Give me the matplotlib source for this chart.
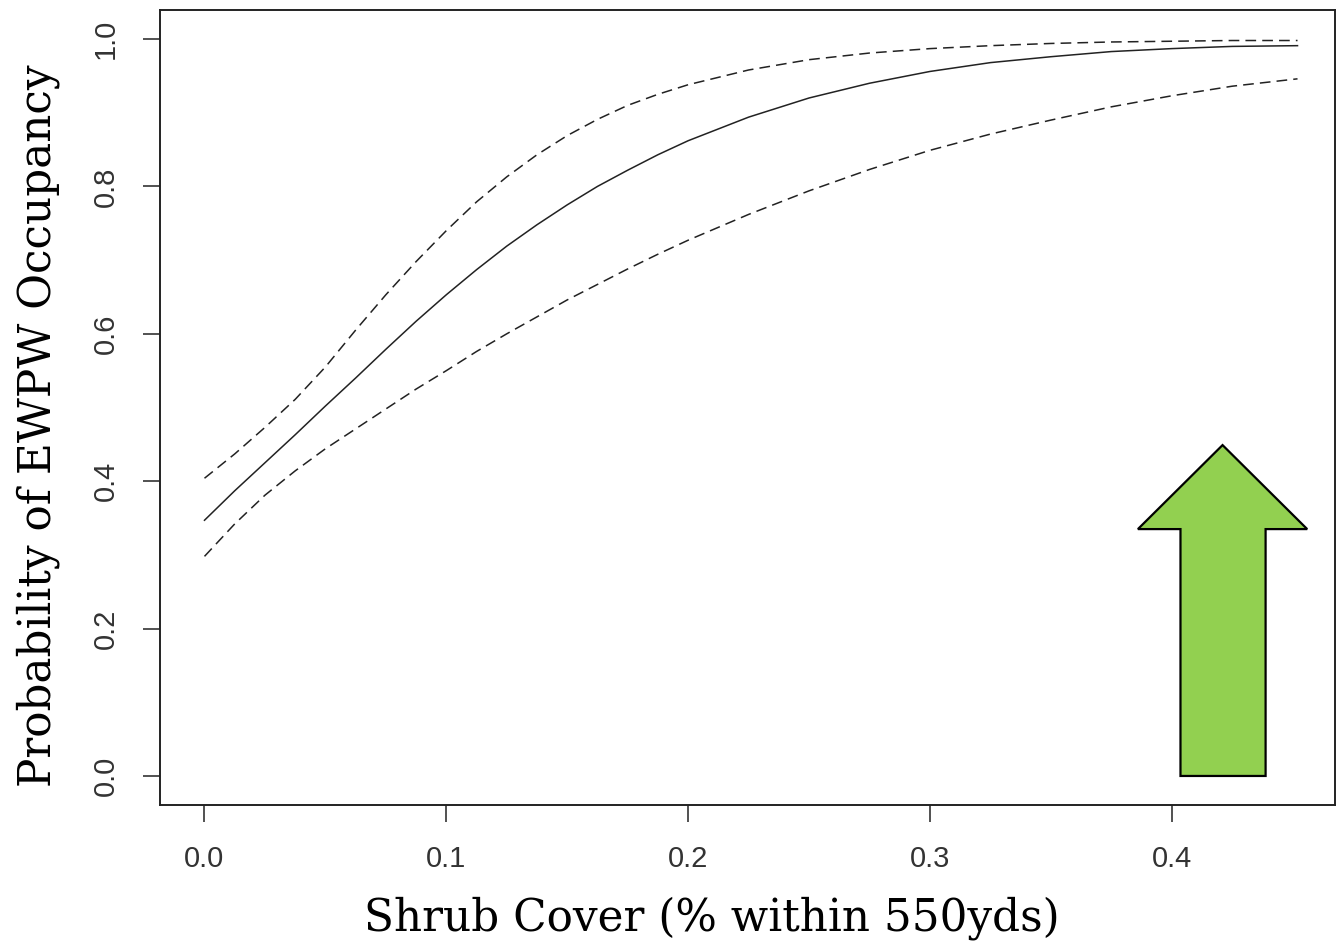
import matplotlib
matplotlib.use("Agg")
import matplotlib.pyplot as plt
from matplotlib.patches import Polygon

# shrub cover (proportion within 550 yds)
shrub = [0.000, 0.0125, 0.025, 0.0375, 0.050, 0.0625, 0.075, 0.0875, 0.100,
         0.1125, 0.125, 0.1375, 0.150, 0.1625, 0.175, 0.1875, 0.200, 0.225,
         0.250, 0.275, 0.300, 0.325, 0.350, 0.375, 0.400, 0.425, 0.452]
# predicted occupancy + 95% CI
occ_fit = [0.347, 0.387, 0.425, 0.463, 0.502, 0.540, 0.579, 0.617, 0.653,
           0.687, 0.719, 0.748, 0.775, 0.800, 0.822, 0.843, 0.862, 0.894,
           0.920, 0.940, 0.956, 0.968, 0.976, 0.983, 0.987, 0.990, 0.991]
occ_upper = [0.404, 0.437, 0.473, 0.511, 0.555, 0.605, 0.653, 0.698, 0.740,
             0.779, 0.813, 0.843, 0.869, 0.891, 0.910, 0.925, 0.938, 0.958,
             0.972, 0.981, 0.987, 0.991, 0.994, 0.996, 0.997, 0.998, 0.998]
occ_lower = [0.298, 0.342, 0.381, 0.414, 0.444, 0.471, 0.498, 0.525, 0.550,
             0.576, 0.600, 0.623, 0.646, 0.667, 0.688, 0.708, 0.727, 0.762,
             0.794, 0.823, 0.849, 0.871, 0.890, 0.908, 0.923, 0.936, 0.946]

x_ticks = [0.0, 0.1, 0.2, 0.3, 0.4]
y_ticks = [0.0, 0.2, 0.4, 0.6, 0.8, 1.0]

# green "up" arrow overlay (data units)
arrow_tip = (0.421, 0.449)
arrow_head_y = 0.335
arrow_head_x = (0.386, 0.456)
arrow_shaft_x = (0.4036, 0.4388)
arrow_base_y = 0.0

fig = plt.figure(figsize=(13.37, 9.48), dpi=100)
ax = fig.add_axes([160 / 1337, 1 - 805 / 948, 1175 / 1337, 795 / 948])

ax.plot(shrub, occ_fit, color="#222222", lw=1.1)
for band in (occ_upper, occ_lower):
    ln, = ax.plot(shrub, band, color="#222222", lw=1.1)
    ln.set_dashes((7, 4))

arrow = Polygon([
    (arrow_shaft_x[0], arrow_base_y),
    (arrow_shaft_x[0], arrow_head_y),
    (arrow_head_x[0], arrow_head_y),
    arrow_tip,
    (arrow_head_x[1], arrow_head_y),
    (arrow_shaft_x[1], arrow_head_y),
    (arrow_shaft_x[1], arrow_base_y),
], closed=True, facecolor="#92D050", edgecolor="black", lw=1.6, zorder=3)
ax.add_patch(arrow)

ax.set_xlim(-0.0184, 0.4675)
ax.set_ylim(-0.0394, 1.0394)
ax.set_xticks(x_ticks)
ax.set_xticklabels([f"{v:.1f}" for v in x_ticks])
ax.set_yticks(y_ticks)
ax.set_yticklabels([f"{v:.1f}" for v in y_ticks], rotation=90, va="center")

for lab in ax.get_xticklabels() + ax.get_yticklabels():
    lab.set_fontfamily("Liberation Sans")
    lab.set_fontsize(21)
    lab.set_color("#333333")
ax.tick_params(length=12, width=1.2, color="#333333", pad=17)

for sp in ax.spines.values():
    sp.set_linewidth(1.4)
    sp.set_color("#222222")

fig.text(712 / 1337, 1 - 918 / 948, "Shrub Cover (% within 550yds)",
         ha="center", va="center", family="DejaVu Serif", size=31.5)
fig.text(38 / 1337, 1 - 426 / 948, "Probability of EWPW Occupancy",
         ha="center", va="center", rotation=90, family="DejaVu Serif", size=31.5)

fig.savefig("out.png", dpi=100)
